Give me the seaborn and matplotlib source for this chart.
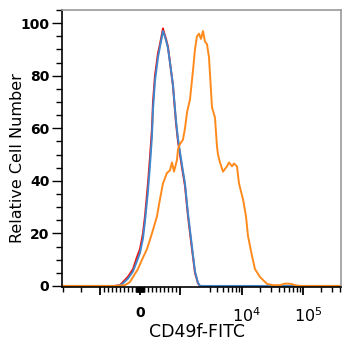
import numpy as np
import pandas as pd
import seaborn as sns
import matplotlib
matplotlib.use("Agg")
import matplotlib.pyplot as plt
from matplotlib.transforms import ScaledTranslation

# ---- data (FITC intensity vs relative cell number) ----
red_x = [-4100, -990, -619, -495, -421, -297, -173, -74, 0, 74, 124, 198, 248, 297, 322, 371,
         446, 495, 545, 569, 594, 644, 693, 743, 817, 891, 941, 990, 1062, 1189, 1331, 1546,
         1731, 1938, 2089, 419000]
red_y = [0, 0, 0, 0.3, 1.5, 3.5, 6.4, 11, 14, 20, 26.5, 39, 49, 60, 70, 80,
         88.6, 92, 96, 98, 96.5, 94, 91, 85, 76, 62, 55, 50, 45, 38, 26.5, 14,
         5, 1, 0, 0]

blue_x = [-4100, -990, -619, -495, -421, -297, -173, -74, 0, 74, 124, 198, 248, 297, 322, 371,
          446, 495, 545, 569, 594, 644, 693, 743, 817, 891, 941, 990, 1062, 1189, 1331, 1546,
          1731, 1938, 2089, 419000]
blue_y = [0, 0, 0, 0.2, 1.0, 2.8, 5.5, 9.5, 12.5, 18, 24.5, 36, 46, 57, 67, 78,
          87, 91, 95, 97, 96, 93.5, 90.5, 85, 76.5, 63, 56, 51, 46, 39, 27.5, 15,
          5.5, 1.2, 0, 0]

orange_x = [-4100, -619, -371, -248, -149, -50, 50, 173, 297, 421, 495, 569, 668, 743, 792,
            842, 916, 941, 990, 1103, 1189, 1282, 1435, 1606, 1731, 1866, 2012, 2169, 2339,
            2521, 2718, 2930, 3281, 3672, 3959, 4111, 4431, 4961, 5766, 6216, 6958, 7501,
            8398, 9050, 10520, 11780, 12700, 14760, 16520, 19930, 25940, 32490, 42270,
            51030, 63930, 77100, 90000, 419000]
orange_y = [0, 0, 0.3, 1.5, 4, 6.4, 10, 14, 20, 26.5, 33, 39, 43, 44, 47,
            43.5, 48, 52, 54, 55.7, 60, 66, 71, 82, 90, 95, 96, 94, 97,
            93, 92, 87, 68, 64, 53, 50, 47, 43.5, 45.5, 47, 45.5, 46.6,
            45.5, 39, 33, 26.5, 19, 11.4, 6.4, 3.4, 0.8, 0.3, 0.3,
            0.9, 0.8, 0.2, 0, 0]

series_names = ["Isotype", "Unstained", "CD49f"]
colors = ["#f01010", "#3f86cc", "#ff8a1c"]

x_major = [-1000, 0, 1000, 1e4, 1e5]
x_major_labels = ["", "0", "", r"$\mathregular{10^{4}}$", r"$\mathregular{10^{5}}$"]
x_minor = ([-4000, -2000] + list(range(-900, -99, 100)) + list(range(-90, 91, 10))
           + list(range(100, 901, 100)) + list(range(3000, 9001, 1000))
           + list(range(20000, 90001, 10000)) + [2e5, 3e5, 4e5])
y_major = [0, 20, 40, 60, 80, 100]

df = pd.concat([
    pd.DataFrame({"x": red_x, "y": red_y, "s": series_names[0]}),
    pd.DataFrame({"x": blue_x, "y": blue_y, "s": series_names[1]}),
    pd.DataFrame({"x": orange_x, "y": orange_y, "s": series_names[2]}),
], ignore_index=True)

sns.set_style("ticks")
plt.rcParams["font.family"] = ["DejaVu Sans"]
plt.rcParams["mathtext.fontset"] = "stix"

fig = plt.figure(figsize=(3.53, 3.5), dpi=100)
ax = fig.add_axes([62 / 353, 63 / 350, 279 / 353, 277 / 350])

sns.lineplot(data=df, x="x", y="y", hue="s", palette=dict(zip(series_names, colors)),
             estimator=None, sort=False, legend=False, linewidth=1.4, ax=ax)

ax.set_xscale("symlog", linthresh=1000, linscale=0.594)
ax.set_xlim(-4100, 4.19e5)
ax.set_ylim(-0.4, 105)

ax.set_xticks(x_major)
ax.set_xticklabels(x_major_labels)
ax.set_xticks(x_minor, minor=True)
ax.set_yticks(y_major)
ax.yaxis.set_minor_locator(matplotlib.ticker.MultipleLocator(5))

ax.tick_params(axis="y", which="major", length=7, width=1, direction="out", pad=2,
               labelsize=10, colors="black")
ax.tick_params(axis="y", which="minor", length=4, width=1, direction="out", colors="black")
ax.tick_params(axis="x", which="major", length=6, width=1.3, direction="out", pad=8,
               labelsize=10, colors="black")
ax.tick_params(axis="x", which="minor", length=3.5, width=1, direction="out", colors="black")

for lab in ax.get_yticklabels():
    lab.set_fontweight("bold")
for i, lab in enumerate(ax.get_xticklabels()):
    if i == 1:
        lab.set_fontweight("bold")
    else:
        lab.set_fontsize(11.5)
        lab.set_transform(lab.get_transform() + ScaledTranslation(0.05, 0.0, fig.dpi_scale_trans))

for side in ["top", "right"]:
    ax.spines[side].set_visible(True)
    ax.spines[side].set_color("#9a9a9a")
    ax.spines[side].set_linewidth(1.2)
for side in ["left", "bottom"]:
    ax.spines[side].set_color("black")
    ax.spines[side].set_linewidth(1.2)

ax.set_ylabel("Relative Cell Number", fontsize=11.5, va="center", color="black")
ax.yaxis.set_label_coords(-0.161, 0.467)
ax.set_xlabel("CD49f-FITC", fontsize=12.5, va="center", color="black")
ax.xaxis.set_label_coords(0.484, -0.162)

fig.savefig("out.png", dpi=100)
